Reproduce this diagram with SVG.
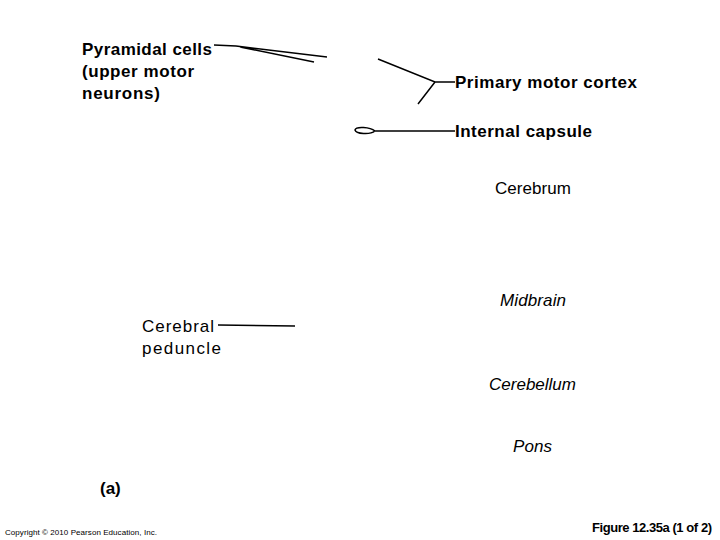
<svg xmlns="http://www.w3.org/2000/svg" width="720" height="540" viewBox="0 0 720 540">
<style>
text{font-family:"Liberation Sans",Arial,sans-serif;font-size:17px;fill:#000}
.b{font-weight:bold}
.i{font-style:italic}
.l{stroke:#000;stroke-width:1.5;fill:none}
</style>
<rect width="720" height="540" fill="#fff"/>
<g id="connectors">
<path class="l" d="M214,45 L236,46 L327,57 M240,47 L314,62"/>
<path class="l" d="M378,59 L435,82 L455,82 M435,82 L418,104"/>
<path class="l" d="M375,131 L455,131 M375,131 C370,127 356,126 355,130 C356,134 370,135 375,131"/>
<path class="l" d="M218,325 L295,326"/>
</g>
<g id="pyramidal"><text class="b" x="82" y="55" textLength="130">Pyramidal cells</text><text class="b" x="82" y="77" textLength="112">(upper motor</text><text class="b" x="82" y="99" textLength="78">neurons)</text></g>
<g id="primary"><text class="b" x="455" y="88" textLength="182">Primary motor cortex</text></g>
<g id="internal"><text class="b" x="455" y="137" textLength="137">Internal capsule</text></g>
<g id="cerebrum"><text x="495" y="194" textLength="76">Cerebrum</text></g>
<g id="midbrain"><text class="i" x="500" y="306" textLength="66">Midbrain</text></g>
<g id="peduncle"><text x="142" y="332" textLength="72">Cerebral</text><text x="142" y="354" textLength="79">peduncle</text></g>
<g id="cerebellum"><text class="i" x="489" y="390" textLength="87">Cerebellum</text></g>
<g id="pons"><text class="i" x="513" y="452" textLength="39">Pons</text></g>
<g id="a"><text class="b" x="100" y="494">(a)</text></g>
<text x="5" y="535" style="font-size:8px" textLength="152">Copyright © 2010 Pearson Education, Inc.</text>
<text class="b" x="592" y="532" style="font-size:13px" textLength="120">Figure 12.35a (1 of 2)</text>
</svg>
